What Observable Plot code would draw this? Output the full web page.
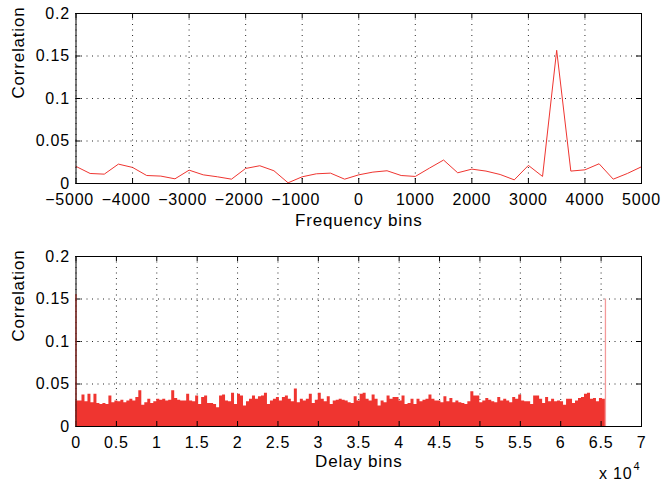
<!DOCTYPE html>
<html><head><meta charset="utf-8">
<script src="https://cdn.jsdelivr.net/npm/d3@7"></script>
<script src="https://cdn.jsdelivr.net/npm/@observablehq/plot@0.6"></script>
<style>
body{margin:0;background:#fff;}
#chart{width:664px;height:487px;overflow:hidden;}
#chart svg{display:block;}
#chart svg text{letter-spacing:0.8px;}
</style></head><body><div id="chart"></div>
<script>
// ---- top panel: correlation vs frequency bin ----
const freqBins = [-5000,-4750,-4500,-4250,-4000,-3750,-3500,-3250,-3000,-2750,-2500,-2250,-2000,-1750,-1500,-1250,-1000,-750,-500,-250,
  0,250,500,750,1000,1250,1500,1750,2000,2250,2500,2750,3000,3250,3500,3750,4000,4250,4500,4750,5000];
const freqCorr = [0.0201,0.0118,0.0110,0.0228,0.0189,0.0094,0.0087,0.0055,0.0157,0.0102,0.0079,0.0051,0.0177,0.0209,0.0150,0.0008,0.0079,0.0114,0.0122,0.0051,
  0.0102,0.0134,0.0150,0.0094,0.0083,0.0181,0.0276,0.0126,0.0169,0.0146,0.0106,0.0043,0.0213,0.0083,0.1567,0.0146,0.0161,0.0232,0.0051,0.0118,0.0197];
const freqTicks = [-5000,-4000,-3000,-2000,-1000,0,1000,2000,3000,4000,5000];

// ---- bottom panel: envelope of correlation vs delay bin (0 .. 65536) ----
const delayEnvelope = [
  0.030,0.030,0.037,0.029,0.038,0.028,0.038,0.027,0.026,0.027,0.026,0.036,0.028,0.030,0.029,0.031,0.028,0.030,0.032,0.030,0.034,0.042,0.025,0.028,0.032,0.027,0.029,0.032,0.031,0.032,
  0.030,0.031,0.042,0.033,0.031,0.030,0.030,0.038,0.030,0.029,0.036,0.026,0.034,0.036,0.027,0.027,0.026,0.022,0.036,0.037,0.030,0.029,0.039,0.026,0.038,0.036,0.024,0.029,0.032,0.036,
  0.032,0.035,0.036,0.039,0.026,0.030,0.032,0.034,0.030,0.034,0.036,0.032,0.029,0.044,0.028,0.032,0.030,0.032,0.038,0.027,0.031,0.039,0.032,0.029,0.035,0.026,0.030,0.031,0.032,0.031,
  0.030,0.028,0.027,0.035,0.030,0.038,0.039,0.032,0.030,0.037,0.032,0.024,0.030,0.028,0.036,0.032,0.034,0.034,0.030,0.036,0.026,0.027,0.032,0.026,0.032,0.029,0.031,0.032,0.037,0.032,
  0.030,0.030,0.028,0.035,0.029,0.033,0.028,0.030,0.028,0.027,0.026,0.029,0.041,0.036,0.036,0.028,0.030,0.033,0.031,0.029,0.028,0.034,0.030,0.032,0.030,0.028,0.034,0.032,0.037,0.030,
  0.029,0.029,0.026,0.036,0.036,0.032,0.027,0.034,0.029,0.032,0.029,0.030,0.029,0.025,0.032,0.032,0.027,0.030,0.033,0.034,0.038,0.039,0.032,0.033,0.029,0.033,0.032,0.032];
const delayMax = 65536;
const delayBins = delayEnvelope.map((_, i) => Math.round(i * delayMax / (delayEnvelope.length - 1)));
const spikeBins = [0, 65536];
const spikeCorr = [0.155, 0.150];
const spikeColors = ["#8e2a24", "#f49a9a"];
const delayTicks = [0,5000,10000,15000,20000,25000,30000,35000,40000,45000,50000,55000,60000,65000,70000];

const corrTicks = [0, 0.05, 0.1, 0.15, 0.2];

const FONT = "'Liberation Sans', Arial, Helvetica, sans-serif";
const W = 664, ML = 75.5, MR = 23;
const FW = W - ML - MR, FH = 170;
const RED = "#ef3530";
const TITLE = 17;

function frameDecor(xTicks) {
  return {
    grid: [
      Plot.gridX(xTicks, {stroke: "#000", strokeOpacity: 0.85, strokeDasharray: "1,4.5"}),
      Plot.gridY(corrTicks, {stroke: "#000", strokeOpacity: 0.85, strokeDasharray: "1,4.5"})
    ],
    box: [
      Plot.frame({stroke: "#000", strokeWidth: 1}),
      Plot.tickX(xTicks, {x: d => d, insetTop: FH - 5, stroke: "#000"}),
      Plot.tickX(xTicks, {x: d => d, insetBottom: FH - 5, stroke: "#000"}),
      Plot.tickY(corrTicks, {y: d => d, insetRight: FW - 5, stroke: "#000"}),
      Plot.tickY(corrTicks, {y: d => d, insetLeft: FW - 5, stroke: "#000"}),
      Plot.axisY({ticks: corrTicks, tickSize: 0, tickPadding: 6, tickFormat: d => `${d}`, fontSize: 16, label: null}),
      Plot.text(["Correlation"], {text: d => d, frameAnchor: "left", lineAnchor: "middle", dx: -57.5, rotate: -90, fontSize: TITLE})
    ]
  };
}

const topDecor = frameDecor(freqTicks);
const topPlot = Plot.plot({
  width: W, height: 243,
  marginLeft: ML, marginRight: MR, marginTop: 13, marginBottom: 60,
  style: {fontFamily: FONT, fontSize: "16px", color: "#000", background: "#fff"},
  x: {domain: [-5000, 5000]},
  y: {domain: [0, 0.2]},
  marks: [
    ...topDecor.grid,
    Plot.line(freqCorr, {x: freqBins, y: freqCorr, stroke: RED, strokeWidth: 1}),
    ...topDecor.box,
    Plot.axisX({ticks: freqTicks, tickSize: 0, tickPadding: 10, fontSize: 16, label: null,
      tickFormat: d => d < 0 ? `\u2212${-d}\u2002\u2009` : `${d}`}),
    Plot.text(["Frequency bins"], {text: d => d, frameAnchor: "bottom", lineAnchor: "middle", dy: 37, fontSize: TITLE})
  ]
});

const botDecor = frameDecor(delayTicks);
const bottomPlot = Plot.plot({
  width: W, height: 244,
  marginLeft: ML, marginRight: MR, marginTop: 13, marginBottom: 61,
  style: {fontFamily: FONT, fontSize: "16px", color: "#000", background: "#fff"},
  x: {domain: [0, 70000]},
  y: {domain: [0, 0.2]},
  marks: [
    ...botDecor.grid,
    Plot.areaY(delayEnvelope, {x: delayBins, y: delayEnvelope, curve: "step-after", fill: RED}),
    ...botDecor.box,
    Plot.ruleX(spikeBins, {x: spikeBins, y1: 0, y2: spikeCorr, stroke: spikeColors, strokeWidth: 1.3}),
    Plot.axisX({ticks: delayTicks, tickSize: 0, tickPadding: 10, fontSize: 16, label: null,
      tickFormat: d => `${d / 1e4}`}),
    Plot.text(["Delay bins"], {text: d => d, frameAnchor: "bottom", lineAnchor: "middle", dy: 35, fontSize: TITLE}),
    Plot.text(["x 10"], {text: d => d, frameAnchor: "bottom-right", lineAnchor: "middle", textAnchor: "end", dx: -9, dy: 47, fontSize: 16}),
    Plot.text(["4"], {text: d => d, frameAnchor: "bottom-right", lineAnchor: "middle", textAnchor: "start", dx: -8, dy: 40, fontSize: 11})
  ]
});

const root = document.getElementById("chart");
root.appendChild(topPlot);
root.appendChild(bottomPlot);
</script>
</body></html>
